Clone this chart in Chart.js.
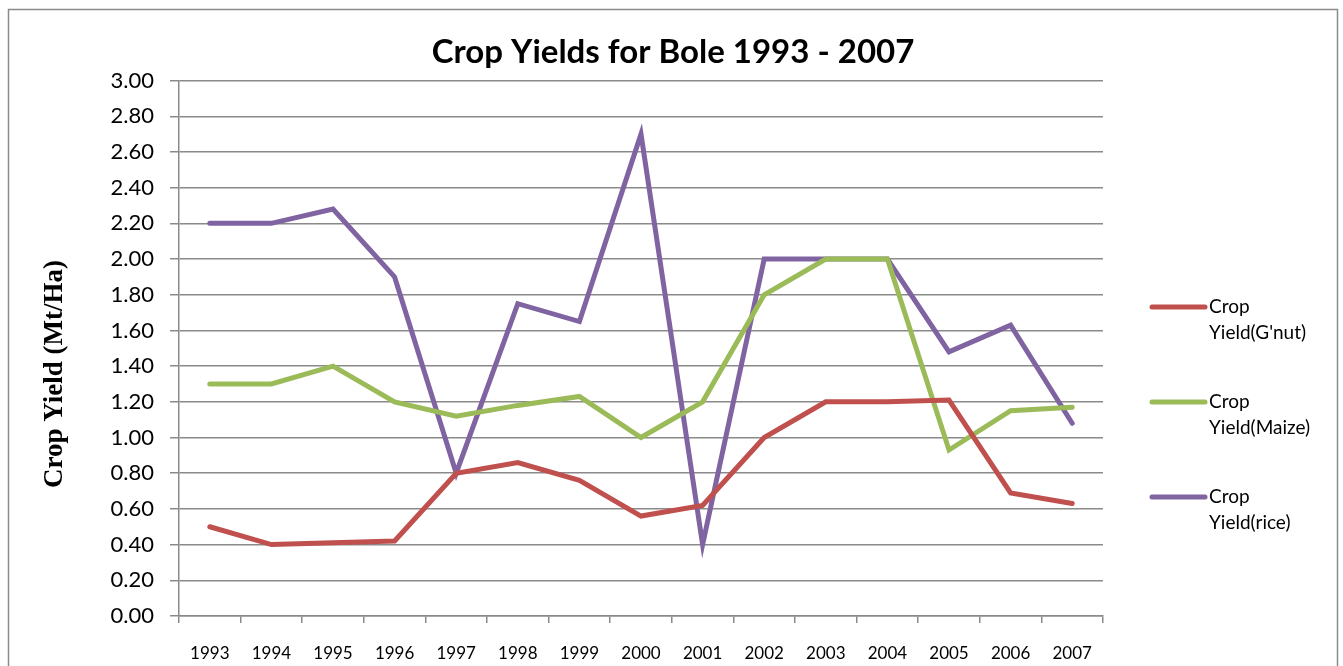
<!DOCTYPE html>
<html>
<head>
<meta charset="utf-8">
<script src="https://cdn.jsdelivr.net/npm/chart.js@4/dist/chart.umd.min.js"></script>
<style>
  html, body { margin: 0; padding: 0; background: #fff; }
  #wrap { width: 1343px; height: 666px; position: relative; }
</style>
</head>
<body>
<div id="wrap"><canvas id="c" width="1343" height="666"></canvas></div>
<script>
const years = ['1993','1994','1995','1996','1997','1998','1999','2000','2001','2002','2003','2004','2005','2006','2007'];
const gnut  = [0.50, 0.40, 0.41, 0.42, 0.80, 0.86, 0.76, 0.56, 0.62, 1.00, 1.20, 1.20, 1.21, 0.69, 0.63];
const maize = [1.30, 1.30, 1.40, 1.20, 1.12, 1.18, 1.23, 1.00, 1.20, 1.80, 2.00, 2.00, 0.93, 1.15, 1.17];
const rice  = [2.20, 2.20, 2.28, 1.90, 0.80, 1.75, 1.65, 2.70, 0.40, 2.00, 2.00, 2.00, 1.48, 1.63, 1.08];
const seriesLabels = ["Crop Yield(G'nut)", "Crop Yield(Maize)", "Crop Yield(rice)"];
const legendLines = [["Crop", "Yield(G'nut)"], ["Crop", "Yield(Maize)"], ["Crop", "Yield(rice)"]];
const colors = ['#C0504D', '#9BBB59', '#8064A2'];
const yTitle = 'Crop Yield (Mt/Ha)';

const frame = {
  id: 'frame',
  beforeDraw(chart) {
    const ctx = chart.ctx;
    ctx.save();
    ctx.fillStyle = '#fff';
    ctx.fillRect(0, 0, chart.width, chart.height);
    ctx.strokeStyle = '#8a8a8a';
    ctx.lineWidth = 1.5;
    ctx.strokeRect(8.5, 9.5, 1329, 720);
    ctx.restore();
  }
};

const sideLegend = {
  id: 'sideLegend',
  afterDraw(chart) {
    const ctx = chart.ctx;
    ctx.save();
    ctx.translate(55, 374);
    ctx.rotate(-Math.PI / 2);
    ctx.fillStyle = '#000';
    ctx.font = 'bold 27px "Liberation Serif"';
    ctx.textAlign = 'center';
    ctx.textBaseline = 'middle';
    ctx.fillText(yTitle, 0, 0);
    ctx.restore();

    ctx.save();
    const ys = [307, 402, 497];
    chart.data.datasets.forEach((ds, i) => {
      const y = ys[i];
      ctx.strokeStyle = ds.borderColor;
      ctx.lineWidth = 5;
      ctx.lineCap = 'round';
      ctx.beginPath();
      ctx.moveTo(1152, y);
      ctx.lineTo(1205, y);
      ctx.stroke();
      ctx.fillStyle = '#000';
      ctx.font = '19px Lato';
      ctx.textBaseline = 'middle';
      ctx.textAlign = 'left';
      ctx.fillText(legendLines[i][0], 1209, y);
      ctx.fillText(legendLines[i][1], 1209, y + 26);
    });
    ctx.restore();
  }
};

new Chart(document.getElementById('c'), {
  type: 'line',
  data: {
    labels: years,
    datasets: [
      { label: seriesLabels[0], data: gnut,  borderColor: colors[0], backgroundColor: colors[0] },
      { label: seriesLabels[1], data: maize, borderColor: colors[1], backgroundColor: colors[1] },
      { label: seriesLabels[2], data: rice,  borderColor: colors[2], backgroundColor: colors[2] }
    ]
  },
  options: {
    responsive: false,
    animation: false,
    devicePixelRatio: 1,
    layout: { padding: { left: 3, right: 0, top: 0, bottom: 0 } },
    elements: {
      line: { borderWidth: 5, tension: 0, borderCapStyle: 'round', borderJoinStyle: 'miter' },
      point: { radius: 0, hoverRadius: 0 }
    },
    plugins: {
      legend: { display: false },
      tooltip: { enabled: false },
      title: {
        display: true,
        text: 'Crop Yields for Bole 1993 - 2007',
        color: '#000',
        font: { family: 'Lato', size: 33, weight: 'bold' },
        padding: { top: 33, bottom: 8 }
      }
    },
    scales: {
      x: {
        offset: true,
        grid: { offset: true, drawOnChartArea: false, drawTicks: true, tickLength: 7, color: '#8a8a8a', lineWidth: 1.5 },
        border: { display: true, color: '#8a8a8a', width: 1.5 },
        ticks: { color: '#000', font: { family: 'Lato', size: 17 }, padding: 20, maxRotation: 0, autoSkip: false },
        afterFit(s) { s.height = 50; }
      },
      y: {
        min: 0, max: 3,
        grid: { color: '#8a8a8a', lineWidth: 1.5, tickLength: 9, drawTicks: true },
        border: { display: true, color: '#8a8a8a', width: 1.5 },
        ticks: { stepSize: 0.2, color: '#000', font: { family: 'Lato', size: 22 }, padding: 16,
                 callback: v => Number(v).toFixed(2) },
        afterFit(s) { s.width = 176; }
      },
      yRight: {
        position: 'right',
        display: true,
        min: 0, max: 3,
        grid: { display: false, drawOnChartArea: false },
        border: { display: false },
        ticks: { display: false },
        afterFit(s) { s.width = 240; }
      }
    }
  },
  plugins: [frame, sideLegend]
});
</script>
</body>
</html>
